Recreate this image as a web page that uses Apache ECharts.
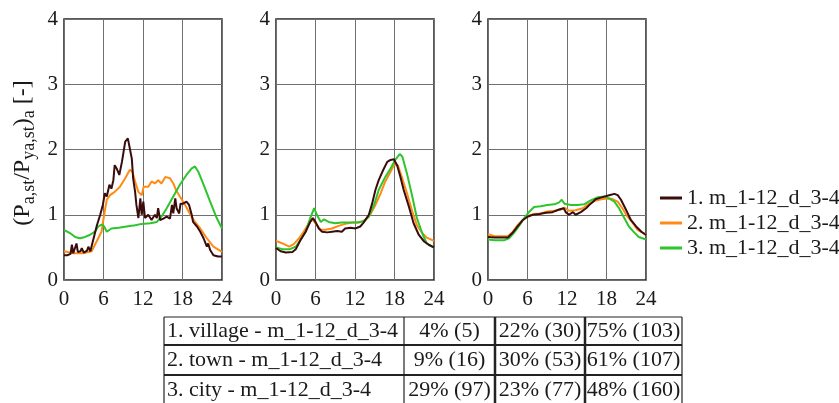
<!DOCTYPE html>
<html>
<head>
<meta charset="utf-8">
<script src="https://cdn.jsdelivr.net/npm/echarts@6/dist/echarts.min.js"></script>
<style>
  html, body { margin: 0; padding: 0; background: #fff; }
  #chart { width: 839px; height: 403px; }
</style>
</head>
<body>
<div id="chart"></div>
<script>
// legend names (same for all three panels)
const seriesNames = ['1. m_1-12_d_3-4', '2. m_1-12_d_3-4', '3. m_1-12_d_3-4'];
const seriesColors = ['#3a0c0c', '#ff8a14', '#2cc62c'];

// x ticks (hour of day) and y ticks
const hourTicks = [0, 6, 12, 18, 24];
const ratioTicks = [0, 1, 2, 3, 4];

// panel 1 - village
const p1Village = [[0,0.38],[0.5,0.38],[1.0,0.40],[1.2,0.54],[1.4,0.41],[1.7,0.42],[1.9,0.56],[2.1,0.43],[2.5,0.44],[2.7,0.49],[3.0,0.42],[3.2,0.43],[3.5,0.45],[3.7,0.51],[4.0,0.44],[4.2,0.46],[4.5,0.64],[5.0,0.84],[5.5,1.0],[5.9,1.15],[6.2,1.33],[6.5,1.28],[6.9,1.46],[7.2,1.40],[7.5,1.53],[7.7,1.76],[8.0,1.71],[8.4,1.61],[8.8,1.81],[9.3,2.12],[9.7,2.17],[10.0,2.2],[10.3,1.86],[10.5,1.56],[10.8,1.35],[11.0,1.15],[11.3,0.95],[11.6,1.25],[11.8,1.0],[12.05,1.2],[12.3,0.95],[12.8,1.0],[13.3,0.92],[13.8,1.0],[14.1,0.95],[14.3,1.1],[14.6,0.92],[15.1,0.94],[15.6,0.97],[16.1,0.94],[16.4,1.15],[16.6,1.02],[16.9,1.25],[17.1,1.1],[17.5,1.02],[17.7,1.17],[18.1,1.17],[18.6,1.2],[19.0,1.15],[19.4,1.0],[19.6,0.89],[20.2,0.82],[20.7,0.74],[21.2,0.64],[21.7,0.51],[21.9,0.56],[22.2,0.46],[22.7,0.38],[23.4,0.36],[24,0.36]];
const p1Town = [[0,0.44],[1.4,0.41],[2.9,0.41],[4.2,0.44],[4.7,0.54],[5.2,0.64],[5.7,0.74],[6.1,1.0],[6.5,1.23],[7.0,1.30],[7.7,1.35],[8.5,1.43],[9.3,1.56],[10.0,1.69],[10.4,1.66],[10.8,1.51],[11.3,1.35],[11.8,1.30],[12.1,1.43],[12.8,1.43],[13.3,1.51],[13.8,1.48],[14.3,1.53],[14.8,1.48],[15.4,1.58],[15.7,1.61],[16.1,1.56],[16.6,1.48],[17.0,1.38],[17.6,1.28],[18.4,1.15],[19.1,1.02],[19.9,0.89],[20.7,0.79],[21.7,0.64],[22.7,0.51],[24,0.43]];
const p1City = [[0,0.77],[0.9,0.72],[1.7,0.66],[2.4,0.64],[3.2,0.66],[3.9,0.69],[4.7,0.74],[5.2,0.82],[5.7,0.85],[6.1,0.82],[6.5,0.74],[7.2,0.79],[8.3,0.80],[9.5,0.82],[10.8,0.84],[11.8,0.86],[13.1,0.87],[14.1,0.89],[14.8,0.97],[15.6,1.10],[16.6,1.28],[17.6,1.46],[18.6,1.61],[19.4,1.71],[19.9,1.74],[20.4,1.66],[21.2,1.46],[22.2,1.20],[23.2,0.95],[24,0.79]];

// panel 2 - town
const p2Village = [[0,0.49],[0.7,0.44],[1.5,0.42],[2.5,0.43],[3.0,0.47],[3.7,0.61],[4.5,0.74],[5.2,0.89],[5.6,0.95],[6.0,0.89],[6.5,0.79],[7.0,0.74],[7.8,0.73],[8.5,0.74],[9.3,0.75],[10.0,0.74],[10.5,0.79],[11.3,0.80],[12.1,0.79],[12.8,0.82],[13.3,0.88],[14.1,1.0],[14.6,1.17],[15.1,1.38],[15.6,1.53],[16.3,1.69],[16.9,1.81],[17.4,1.84],[17.9,1.85],[18.4,1.76],[18.9,1.58],[19.4,1.38],[20.2,1.12],[20.9,0.87],[21.7,0.69],[22.5,0.59],[23.2,0.54],[24,0.50]];
const p2Town = [[0,0.60],[1.0,0.56],[2.0,0.51],[2.7,0.55],[3.5,0.64],[4.2,0.74],[5.0,0.87],[5.5,0.93],[6.0,0.87],[6.8,0.77],[7.5,0.77],[8.5,0.79],[9.5,0.83],[10.5,0.86],[11.6,0.88],[12.6,0.88],[13.6,0.92],[14.3,1.0],[15.1,1.15],[15.9,1.33],[16.6,1.51],[17.4,1.66],[17.9,1.76],[18.5,1.76],[19.1,1.58],[19.9,1.33],[20.7,1.05],[21.4,0.84],[22.2,0.72],[22.9,0.65],[24,0.60]];
const p2City = [[0,0.50],[1.0,0.47],[2.0,0.47],[3.0,0.51],[3.7,0.61],[4.5,0.74],[5.2,0.95],[5.8,1.10],[6.2,1.0],[6.8,0.89],[7.3,0.93],[8.0,0.89],[9.0,0.87],[10.0,0.88],[11.1,0.88],[12.3,0.88],[13.3,0.90],[14.1,0.97],[14.9,1.15],[15.6,1.38],[16.6,1.58],[17.4,1.71],[18.1,1.84],[18.8,1.93],[19.2,1.89],[19.9,1.63],[20.7,1.28],[21.4,0.95],[22.2,0.72],[22.9,0.56],[24,0.49]];

// panel 3 - city
const p3Village = [[0,0.66],[1.0,0.65],[2.0,0.65],[3.0,0.65],[3.7,0.72],[4.5,0.82],[5.3,0.92],[6.0,0.97],[6.8,1.0],[7.8,1.01],[8.8,1.03],[9.8,1.04],[10.8,1.08],[11.5,1.10],[11.8,1.04],[12.3,1.0],[12.9,1.04],[13.3,1.0],[14.1,1.04],[14.9,1.10],[15.6,1.17],[16.4,1.24],[17.4,1.27],[18.4,1.30],[19.2,1.32],[19.7,1.30],[20.2,1.23],[21.0,1.07],[21.7,0.92],[22.5,0.82],[23.3,0.74],[24,0.69]];
const p3Town = [[0,0.70],[1.0,0.67],[3.0,0.67],[3.7,0.73],[4.5,0.84],[5.3,0.92],[6.0,0.98],[7.0,1.01],[8.0,1.02],[9.0,1.05],[10.1,1.06],[11.1,1.08],[11.6,1.11],[12.3,1.06],[13.3,1.07],[14.4,1.10],[15.4,1.17],[16.4,1.22],[17.4,1.24],[18.2,1.25],[18.9,1.24],[19.7,1.20],[20.4,1.10],[21.2,0.97],[22.0,0.87],[22.7,0.77],[24,0.70]];
const p3City = [[0,0.62],[1.0,0.61],[2.5,0.61],[3.2,0.64],[4.0,0.73],[4.8,0.84],[5.5,0.95],[6.3,1.05],[7.0,1.12],[8.0,1.13],[9.0,1.15],[10.1,1.16],[10.8,1.19],[11.2,1.23],[11.6,1.17],[12.6,1.15],[13.6,1.15],[14.6,1.16],[15.6,1.22],[16.7,1.27],[17.7,1.28],[18.4,1.25],[19.2,1.20],[19.9,1.10],[20.7,0.95],[21.4,0.82],[22.2,0.73],[22.9,0.66],[24,0.62]];

const panels = [
  [p1Village, p1Town, p1City],
  [p2Village, p2Town, p2City],
  [p3Village, p3Town, p3City]
];

// table below the panels
const tableLabels = ['1. village - m_1-12_d_3-4', '2. town - m_1-12_d_3-4', '3. city - m_1-12_d_3-4'];
const tableShares = [
  ['4% (5)', '22% (30)', '75% (103)'],
  ['9% (16)', '30% (53)', '61% (107)'],
  ['29% (97)', '23% (77)', '48% (160)']
];

const FONT = "'Liberation Serif', 'Times New Roman', serif";
const INK = '#1a1a1a';

const gridLefts = [64, 276, 488];

let grids = [], xAxes = [], yAxes = [], series = [];
panels.forEach((panel, i) => {
  grids.push({
    left: gridLefts[i], top: 19, width: 158, height: 261,
    show: true, borderColor: '#222', borderWidth: 1.5, backgroundColor: 'transparent'
  });
  xAxes.push({
    type: 'value', gridIndex: i,
    min: hourTicks[0], max: hourTicks[hourTicks.length - 1], interval: 6,
    axisLine: { show: false }, axisTick: { show: false },
    splitLine: { show: true, lineStyle: { color: '#707070', width: 1 } },
    axisLabel: { fontFamily: FONT, fontSize: 21, color: INK, margin: 9 }
  });
  yAxes.push({
    type: 'value', gridIndex: i,
    min: ratioTicks[0], max: ratioTicks[ratioTicks.length - 1], interval: 1,
    axisLine: { show: false }, axisTick: { show: false },
    splitLine: { show: true, lineStyle: { color: '#707070', width: 1 } },
    axisLabel: { fontFamily: FONT, fontSize: 21, color: INK, margin: 6 }
  });
  panel.forEach((data, k) => {
    series.push({
      name: seriesNames[k], type: 'line', xAxisIndex: i, yAxisIndex: i,
      data: data, symbol: 'none', smooth: false,
      lineStyle: { color: seriesColors[k], width: 2 },
      itemStyle: { color: seriesColors[k] },
      z: 3 + (k === 0 ? 1 : 0)
    });
  });
});

// table drawn with graphic elements
const colX = [164, 404, 495, 585, 682];
const rowY = [317, 345, 375, 405];
let graphic = [];
rowY.forEach((y, r) => {
  graphic.push({ type: 'line', shape: { x1: colX[0], y1: y, x2: colX[4], y2: y },
    style: { stroke: '#222', lineWidth: r === 0 ? 1 : 2 } });
});
colX.forEach((x, c) => {
  graphic.push({ type: 'line', shape: { x1: x, y1: rowY[0], x2: x, y2: rowY[3] },
    style: { stroke: '#222', lineWidth: (c === 2 || c === 3) ? 2.5 : 1.2 } });
});
tableLabels.forEach((label, r) => {
  const cy = (rowY[r] + rowY[r + 1]) / 2;
  graphic.push({ type: 'text', x: colX[0] + 3, y: cy,
    style: { text: label, font: '22px ' + FONT, fill: INK, align: 'left', verticalAlign: 'middle', textAlign: 'left', textVerticalAlign: 'middle' } });
  tableShares[r].forEach((txt, c) => {
    graphic.push({ type: 'text', x: (colX[c + 1] + colX[c + 2]) / 2, y: cy,
      style: { text: txt, font: '22px ' + FONT, fill: INK, align: 'center', verticalAlign: 'middle', textAlign: 'center', textVerticalAlign: 'middle' } });
  });
});

// rotated y axis title with subscripts
graphic.push({
  type: 'text', x: 23, y: 153, rotation: Math.PI / 2,
  style: {
    text: '(P{s|a,st}/P{s|ya,st}){s|a} [-]',
    font: '24px ' + FONT, fill: INK,
    align: 'center', verticalAlign: 'middle', textAlign: 'center', textVerticalAlign: 'middle',
    rich: {
      s: { fontFamily: FONT, fontSize: 18, lineHeight: 18, padding: [13, 0, 0, 0], fill: INK, color: INK }
    }
  }
});

const chart = echarts.init(document.getElementById('chart'));
chart.setOption({
  animation: false,
  backgroundColor: '#fff',
  grid: grids,
  xAxis: xAxes,
  yAxis: yAxes,
  series: series,
  legend: {
    data: seriesNames,
    orient: 'vertical', left: 655, top: 182,
    icon: 'rect', itemWidth: 22, itemHeight: 3, itemGap: 3,
    textStyle: { fontFamily: FONT, fontSize: 22, lineHeight: 22, color: INK }
  },
  graphic: graphic
});
</script>
</body>
</html>
